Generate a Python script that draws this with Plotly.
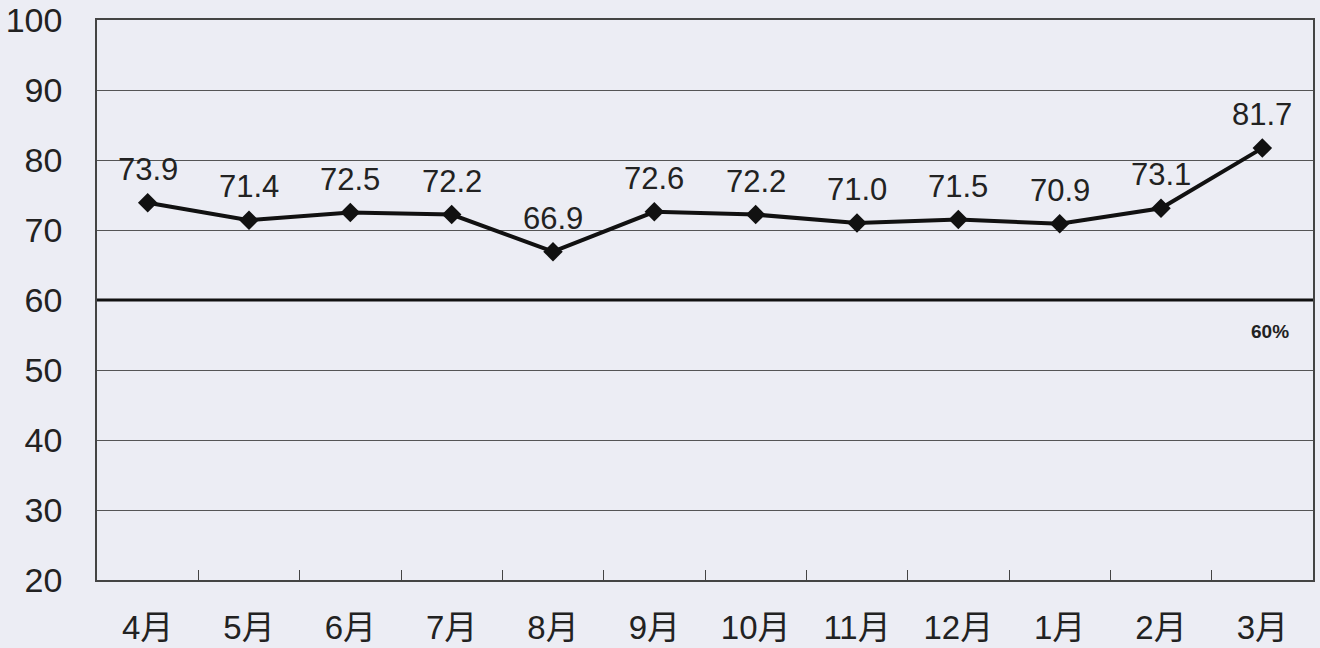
import plotly.graph_objects as go

months = ["4月", "5月", "6月", "7月", "8月", "9月", "10月", "11月", "12月", "1月", "2月", "3月"]
values = [73.9, 71.4, 72.5, 72.2, 66.9, 72.6, 72.2, 71.0, 71.5, 70.9, 73.1, 81.7]
target = 60
target_label = "60%"
y_ticks = [20, 30, 40, 50, 60, 70, 80, 90, 100]

bg = "#ECEDF4"
font_family = "Liberation Sans, Arial, Noto Sans CJK JP, sans-serif"

fig = go.Figure()
fig.add_trace(go.Scatter(
    x=months, y=values,
    mode="lines+markers",
    line=dict(color="#111111", width=4),
    marker=dict(symbol="diamond", size=15, color="#111111"),
    showlegend=False,
))
for m, v in zip(months, values):
    fig.add_annotation(x=m, y=v, text=f"{v:.1f}", showarrow=False, yanchor="bottom",
                       yshift=14, font=dict(size=31, color="#222222", family=font_family))

fig.add_shape(type="line", xref="paper", yref="y", x0=0, x1=1, y0=target, y1=target,
              line=dict(color="#111111", width=3))
fig.add_annotation(xref="paper", yref="y", x=0.965, y=target - 4.5, xanchor="center",
                   text=f"<b>{target_label}</b>",
                   showarrow=False, font=dict(size=19, color="#222222", family=font_family))

fig.update_layout(
    width=1320, height=648,
    paper_bgcolor=bg, plot_bgcolor=bg,
    margin=dict(l=97, r=7, t=20, b=68),
    font=dict(family=font_family, color="#222222"),
    xaxis=dict(
        type="category",
        range=[-0.5, len(months) - 0.5],
        automargin=False,
        showgrid=False,
        showline=True, linecolor="#444444", linewidth=1.5, mirror=True,
        ticks="inside", tickson="boundaries", ticklen=10, tickcolor="#444444",
        tickfont=dict(size=33, family="Liberation Sans, Noto Sans CJK JP, sans-serif"),
        ticklabelstandoff=18,
    ),
    yaxis=dict(
        range=[20, 100],
        automargin=False,
        tickvals=y_ticks,
        showgrid=True, gridcolor="#555555", gridwidth=1,
        showline=True, linecolor="#444444", linewidth=1.5, mirror=True,
        ticks="", zeroline=False,
        tickfont=dict(size=34),
        ticklabelstandoff=26,
    ),
)

fig.write_html(
    "out.html",
    config={"displayModeBar": False},
    post_script="document.body.style.margin='0';document.body.style.overflow='hidden';document.body.style.background='#ECEDF4';",
)
